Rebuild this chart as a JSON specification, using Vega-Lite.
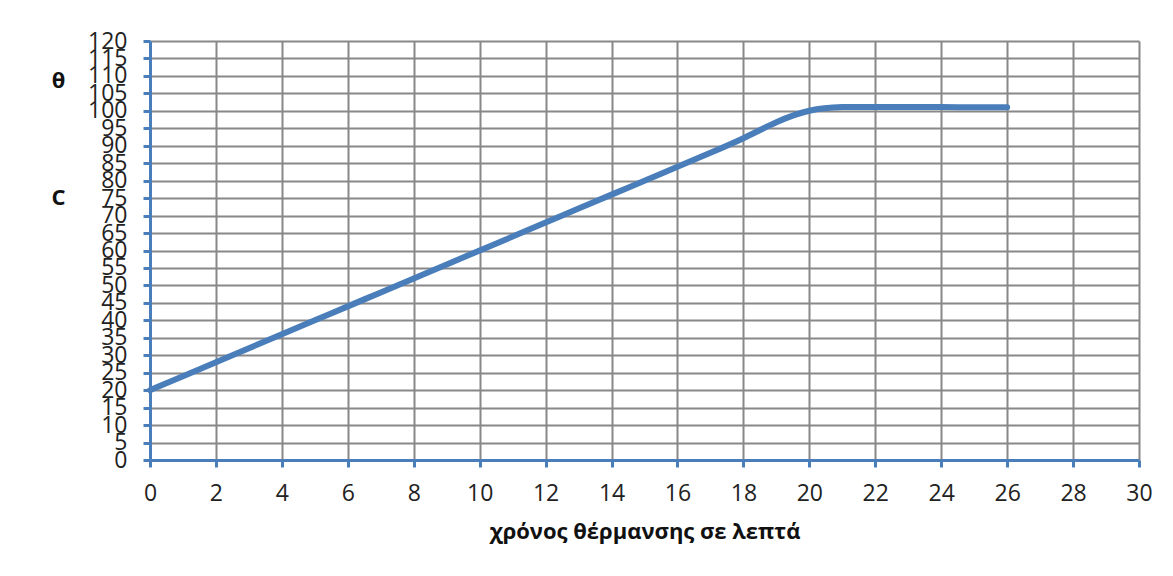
{
  "$schema": "https://vega.github.io/schema/vega-lite/v6.json",
  "autosize": {"type": "none"},
  "width": 989,
  "height": 419,
  "padding": {"left": 150, "top": 41, "right": 34, "bottom": 116},
  "background": "white",
  "config": {
    "view": {"stroke": null},
    "font": "Open Sans"
  },
  "data": {
    "values": [
      {"t": 0, "temp": 20},
      {"t": 1, "temp": 24},
      {"t": 2, "temp": 28},
      {"t": 3, "temp": 32},
      {"t": 4, "temp": 36},
      {"t": 5, "temp": 40},
      {"t": 6, "temp": 44},
      {"t": 7, "temp": 48},
      {"t": 8, "temp": 52},
      {"t": 9, "temp": 56},
      {"t": 10, "temp": 60},
      {"t": 11, "temp": 64},
      {"t": 12, "temp": 68},
      {"t": 13, "temp": 72},
      {"t": 14, "temp": 76},
      {"t": 15, "temp": 80},
      {"t": 16, "temp": 84},
      {"t": 17, "temp": 88},
      {"t": 18, "temp": 92},
      {"t": 19, "temp": 97},
      {"t": 20, "temp": 100.5},
      {"t": 21, "temp": 101.2},
      {"t": 22, "temp": 101.1},
      {"t": 23, "temp": 101.1},
      {"t": 24, "temp": 101.1},
      {"t": 25, "temp": 101},
      {"t": 26, "temp": 101}
    ]
  },
  "mark": {"type": "line", "color": "#4a7ebb", "strokeWidth": 6, "interpolate": "basis", "strokeCap": "round"},
  "encoding": {
    "x": {
      "field": "t",
      "type": "quantitative",
      "scale": {"domain": [0, 30], "nice": false, "zero": false},
      "axis": {
        "title": "χρόνος θέρμανσης σε λεπτά",
        "titleFont": "Open Sans",
        "titleFontSize": 22,
        "titleFontWeight": "bold",
        "titleColor": "#111",
        "titlePadding": 16,
        "values": [0, 2, 4, 6, 8, 10, 12, 14, 16, 18, 20, 22, 24, 26, 28, 30],
        "labelFontSize": 23,
        "labelColor": "#222",
        "labelPadding": 15,
        "labelFlush": false,
        "labelOverlap": false,
        "domainColor": "#4a7ebb",
        "domainWidth": 3,
        "tickColor": "#4a7ebb",
        "tickWidth": 3,
        "tickSize": 7,
        "grid": true,
        "gridColor": "#888888",
        "gridWidth": 2
      }
    },
    "y": {
      "field": "temp",
      "type": "quantitative",
      "scale": {"domain": [0, 120], "nice": false},
      "axis": {
        "title": ["θ", "C"],
        "titleAngle": 0,
        "titleFont": "Open Sans",
        "titleFontSize": 22,
        "titleFontWeight": "bold",
        "titleColor": "#111",
        "titleAlign": "center",
        "titleBaseline": "alphabetic",
        "titleLineHeight": 117,
        "titleX": -92,
        "titleY": 46,
        "values": [0, 5, 10, 15, 20, 25, 30, 35, 40, 45, 50, 55, 60, 65, 70, 75, 80, 85, 90, 95, 100, 105, 110, 115, 120],
        "labelFontSize": 23,
        "labelColor": "#222",
        "labelPadding": 16,
        "labelFlush": false,
        "labelOverlap": false,
        "domainColor": "#4a7ebb",
        "domainWidth": 3,
        "tickColor": "#4a7ebb",
        "tickWidth": 3,
        "tickSize": 7,
        "grid": true,
        "gridColor": "#888888",
        "gridWidth": 2
      }
    }
  }
}
